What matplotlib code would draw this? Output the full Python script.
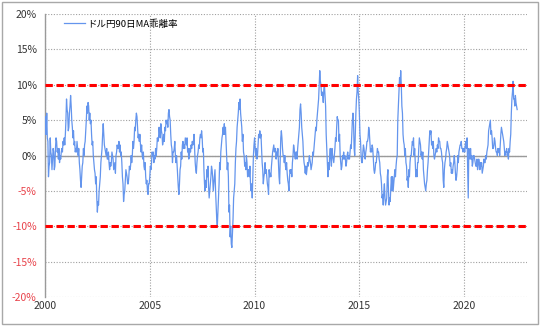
import matplotlib
matplotlib.use("Agg")
import matplotlib.pyplot as plt
import numpy as np
from matplotlib.patches import Rectangle

plt.rcParams['font.family'] = ['Noto Sans CJK JP', 'DejaVu Sans']

# USD/JPY deviation from its 90-day MA (%), three readings per month (early/mid/late)
dev_2000 = [3, 5.5, 3, 6, 2.5, 2, -3, -1.5, -1, 2.5, 0.5, 0, -2, -0.5, 1, 0.5, -2, -1.5,
            1, 2.5, 2, 0.5, 1, -0.5, 1, -1, 0, -0.5, 0.5, 1, 0.5, 2, 1.5, 2.5, 1.5, 3]
dev_2001 = [5, 8, 6.5, 6, 3.5, 4, 6, 7, 8.5, 7, 5, 4, 2.5, 3.5, 1.5, 2, 0.5, 1,
            0.5, 2, 1, 0, 1, -1, -2, -3.5, -4.5, -3, -1.5, -1, 1, 0, 1.5, 2, 3.5, 5]
dev_2002 = [7, 6, 7.5, 7, 5, 6, 4.5, 5, 3, 1.5, 2, 0, -1, -2, -2.5, -4, -3, -6,
            -8, -6.5, -7, -5, -4, -3, -1, 0, 1, 3, 4.5, 3, 1.5, 1, 0.5, 0, 1, -0.5]
dev_2003 = [-0.5, 0.5, -1, -2, -1, -1.5, -1, 0.5, 0, -0.5, -2, -1.5, -1, -2.5, 0, 0.5, 1.5, 1,
            1, 2, 0.5, 1.5, 0, 0.5, -1, -3, -4, -6.5, -5.5, -5, -3.5, -2, -2.5, -3, -4, -4]
dev_2004 = [-3, -1.5, -2, -1.5, 0, -1, 0, 2, 1, 2, 4, 3.5, 5, 6, 5.5, 4, 2.5, 3,
            2, 3, 1.5, 0.5, 1.5, 0, -0.5, 0.5, -1.5, -2, -1, -3, -4, -3.5, -5, -5.5, -4, -4]
dev_2005 = [-3, -1.5, -2, -1, 0.5, 0, 0.5, -1, 0, -0.5, 1, 0, 1, 2.5, 2, 2.5, 4, 3,
            2.5, 4.5, 3.5, 3, 1.5, 2, 3, 2, 4, 3.5, 5, 4.5, 5, 4, 6, 6.5, 5.5, 5]
dev_2006 = [3, 1.5, 1, -1, 0.5, 0.5, 1, 2, 0, -1, 0, -1.5, -3, -4.5, -5.5, -4, -2, -1.5,
            0.5, -0.5, 1.5, 2, 1, 1.5, 1, 2.5, 2, 1.5, 2.5, 0.5, 1, -0.5, 0, 1, 0.5, 1.5]
dev_2007 = [1, 2, 1.5, 2, 3, 1, -1, -2, -2.5, -1, 0, 0.5, 1.5, 1, 2.5, 3, 2.5, 3.5,
            2.5, 0.5, 1, -2, -4, -5, -3.5, -4.5, -2, -3, -1.5, -4.5, -6, -5, -4, -3, -1.5, -2]
dev_2008 = [-3, -5, -4, -3, -2, -5, -7, -9, -10, -8, -6, -4, -1, -2, 0.5, 1.5, 2.5, 3,
            4, 3, 4.5, 3, 4, 2, 0, -2, -1, -3, -8, -7, -11.5, -10, -12.5, -13, -11, -9]
dev_2009 = [-6, -5, -4, -1, 1, 2, 4, 5, 6, 7.5, 6.5, 8, 6, 5, 4, 2, 3, 0.5,
            0, -1.5, -1, -2, 0, -1, -3, -2, -2, -3, -1.5, -4, -5, -4, -6, -3, 0, 1.5]
dev_2010 = [2.5, 1, 0, 1, -0.5, 0, 1.5, 3, 2.5, 3.5, 2.5, 3, 1, -1, -2, -4, -3, -2.5,
            -1, -2.5, -2, -3, -4, -4.5, -5.5, -2, -3, -2.5, -3, -1.5, -0.5, 0.5, 1, 1.5, 0.5, 1]
dev_2011 = [1, -0.5, 0.5, 0, 1, -1, -3, -4, -1, 2.5, 3.5, 2.5, 1, 0, 0, -1, 0, -1.5,
            -2, -1, -2.5, -3.5, -4, -5, -3, -2, -2.5, -2, -3, -1, 0, 1.5, 1, 0, -0.5, 0.5]
dev_2012 = [0.5, -0.5, 1, 2, 3, 4, 6.5, 7.3, 6, 4, 3, 2, 0, -1, -1.5, -2.5, -1.5, -2.7,
            -2, -1, -1.5, -1, 0, -0.5, -1, -2, -1.5, -1, 0.5, 0, 1, 2, 3, 4, 3.5, 5]
dev_2013 = [6, 7, 8, 10, 12, 10.5, 10, 8.5, 9, 8.5, 7.5, 9.5, 10, 8.5, 7, 3, 1, -1,
            -3, -1, -2, 0, 1, -0.5, -1.5, 1, 0, -0.5, -1, 0, 1, 2.5, 2, 4, 5.5, 5]
dev_2014 = [5, 2, 3, 0, -1, -2, -1.5, 0, -0.5, 0.5, -0.5, 0, -0.5, -1.5, -1, 0, 0.5, -0.5,
            0, -0.5, 0.5, 1.5, 1, 3, 5, 6, 4.5, 1, 0, 3, 6, 8, 9, 11.3, 9, 8]
dev_2015 = [6, 3, 2, 0, -1, -1, 0.5, 1.5, 1, 0, -0.5, 0.5, 1, 2, 2, 2.5, 4, 3.5,
            2, 0.5, 1, 0.5, 1.5, 1, -0.5, -2, -2.5, -2, -1, -1, 0, 1, 0.5, 0.5, -0.5, -1]
dev_2016 = [-2.5, -3, -4, -6, -5.5, -7, -5, -4, -6, -7, -6.5, -6, -3, -2, -5, -7, -6, -6.5,
            -4.5, -3, -5, -3, -5, -4, -3, -2, -3, -1.5, -0.5, 0, 5, 7, 9, 11, 10, 12]
dev_2017 = [10, 7, 6, 3, 2, 1.5, 0, 1, -1, -1.5, -3.5, -3, -4.5, -2, -3, -1, 0, 0,
            1, 2, 1.5, 2.5, 0, 1, -1, -3, -2, -3, -1, -1, 1, 2.5, 2, 1.5, 0, 0.5]
dev_2018 = [-0.5, 0.5, -2, -3, -4, -4.5, -5, -4, -3.5, -2, -1, 0.5, 2, 3.5, 3, 3.5, 1.5, 2,
            1, 2, 0, -0.5, 0, 0.5, 1, 0.5, 1.5, 1, 2.5, 2, 2, 1, 1, 0.5, -0.5, -1]
dev_2019 = [-3.5, -4.5, -2, -1, -0.5, 0.5, 1, 2, 1.5, 1, 0.5, 0, -1.5, -1, -2.5, -2, -2.5, -1.5,
            -1, 0, -1, -2.5, -3.5, -3, -2, 0, -1, 0.5, 1, 1.5, 1.5, 2, 1, 1, 0.5, 1]
dev_2020 = [1, 0.5, 1.5, 2, 1, 2.5, -2, -6, 1, 0.5, -0.5, 1, -0.5, 0, -1.5, -1, 0, 0,
            -0.5, -1, -1.5, -1.5, -0.5, -2, -1.5, -0.5, -1, -2, -1, -1.5, -1, -2.5, -2, -1.5, -0.5, -1]
dev_2021 = [-1, 0, -0.5, 0.5, 1, 1.5, 3.5, 4, 4.5, 5, 3, 3.5, 2.5, 1, 1, 1.5, 2.5, 2,
            1, 0.5, 0.5, 0, 1, 0.5, 1, 0, 1.5, 3, 4, 3.5, 3, 2.5, 2, 1, 0, 0.5]
dev_2022 = [0.5, 1, 0, 0.5, -0.5, 1, 0.5, 2, 3, 6, 8, 9, 10.5, 8, 8, 7, 8.5, 7.5,
            7, 6.5]

yearly = [dev_2000, dev_2001, dev_2002, dev_2003, dev_2004, dev_2005, dev_2006, dev_2007,
          dev_2008, dev_2009, dev_2010, dev_2011, dev_2012, dev_2013, dev_2014, dev_2015,
          dev_2016, dev_2017, dev_2018, dev_2019, dev_2020, dev_2021, dev_2022]
values = [v for year_vals in yearly for v in year_vals]
years = 2000 + np.arange(len(values)) / 36.0

series_label = "ドル円90日MA乖離率"
y_ticks = [-20, -15, -10, -5, 0, 5, 10, 15, 20]
year_ticks = [2000, 2005, 2010, 2015, 2020]
alert_levels = [10, -10]

fig = plt.figure(figsize=(5.4, 3.28), dpi=100)
ax = fig.add_axes([0.0833, 0.0945, 0.8927, 0.8625])

ax.plot(years, values, color="#6495ED", lw=0.9, label=series_label, zorder=3)

for lvl in alert_levels:
    ax.axhline(lvl, color="#FF0000", lw=2.2, ls=(0, (2.4, 1.2)), zorder=4)
ax.axhline(0, color="#9A9A9A", lw=1.0, zorder=2)

ax.set_ylim(-20, 20)
ax.set_xlim(2000, 2023)
ax.set_yticks(y_ticks)
ax.set_yticklabels([f"{v}%" for v in y_ticks], fontsize=7.5)
for lab, v in zip(ax.get_yticklabels(), y_ticks):
    lab.set_color("#E8424A" if v < 0 else "#333333")

ax.set_xticks(year_ticks)
ax.set_xticklabels([str(y) for y in year_ticks], fontsize=7.5, color="#333333")

ax.tick_params(axis="y", length=0, pad=6)
ax.tick_params(axis="x", length=0, pad=3)
ax.grid(True, color="#A0A0A0", ls=(0, (1, 1.5)), lw=0.8, zorder=1)

for side in ["top", "right", "bottom"]:
    ax.spines[side].set_visible(False)
ax.spines["left"].set_color("#9A9A9A")
ax.spines["left"].set_linewidth(1.0)

ax.legend(loc="upper left", bbox_to_anchor=(0.022, 1.012), frameon=False,
          fontsize=6.8, handlelength=2.2, handletextpad=0.25)

fig.patches.append(Rectangle((0.003, 0.012), 0.993, 0.983, transform=fig.transFigure,
                             fill=False, edgecolor="#A8A8A8", lw=1.0))

fig.savefig("out.png", dpi=100)
